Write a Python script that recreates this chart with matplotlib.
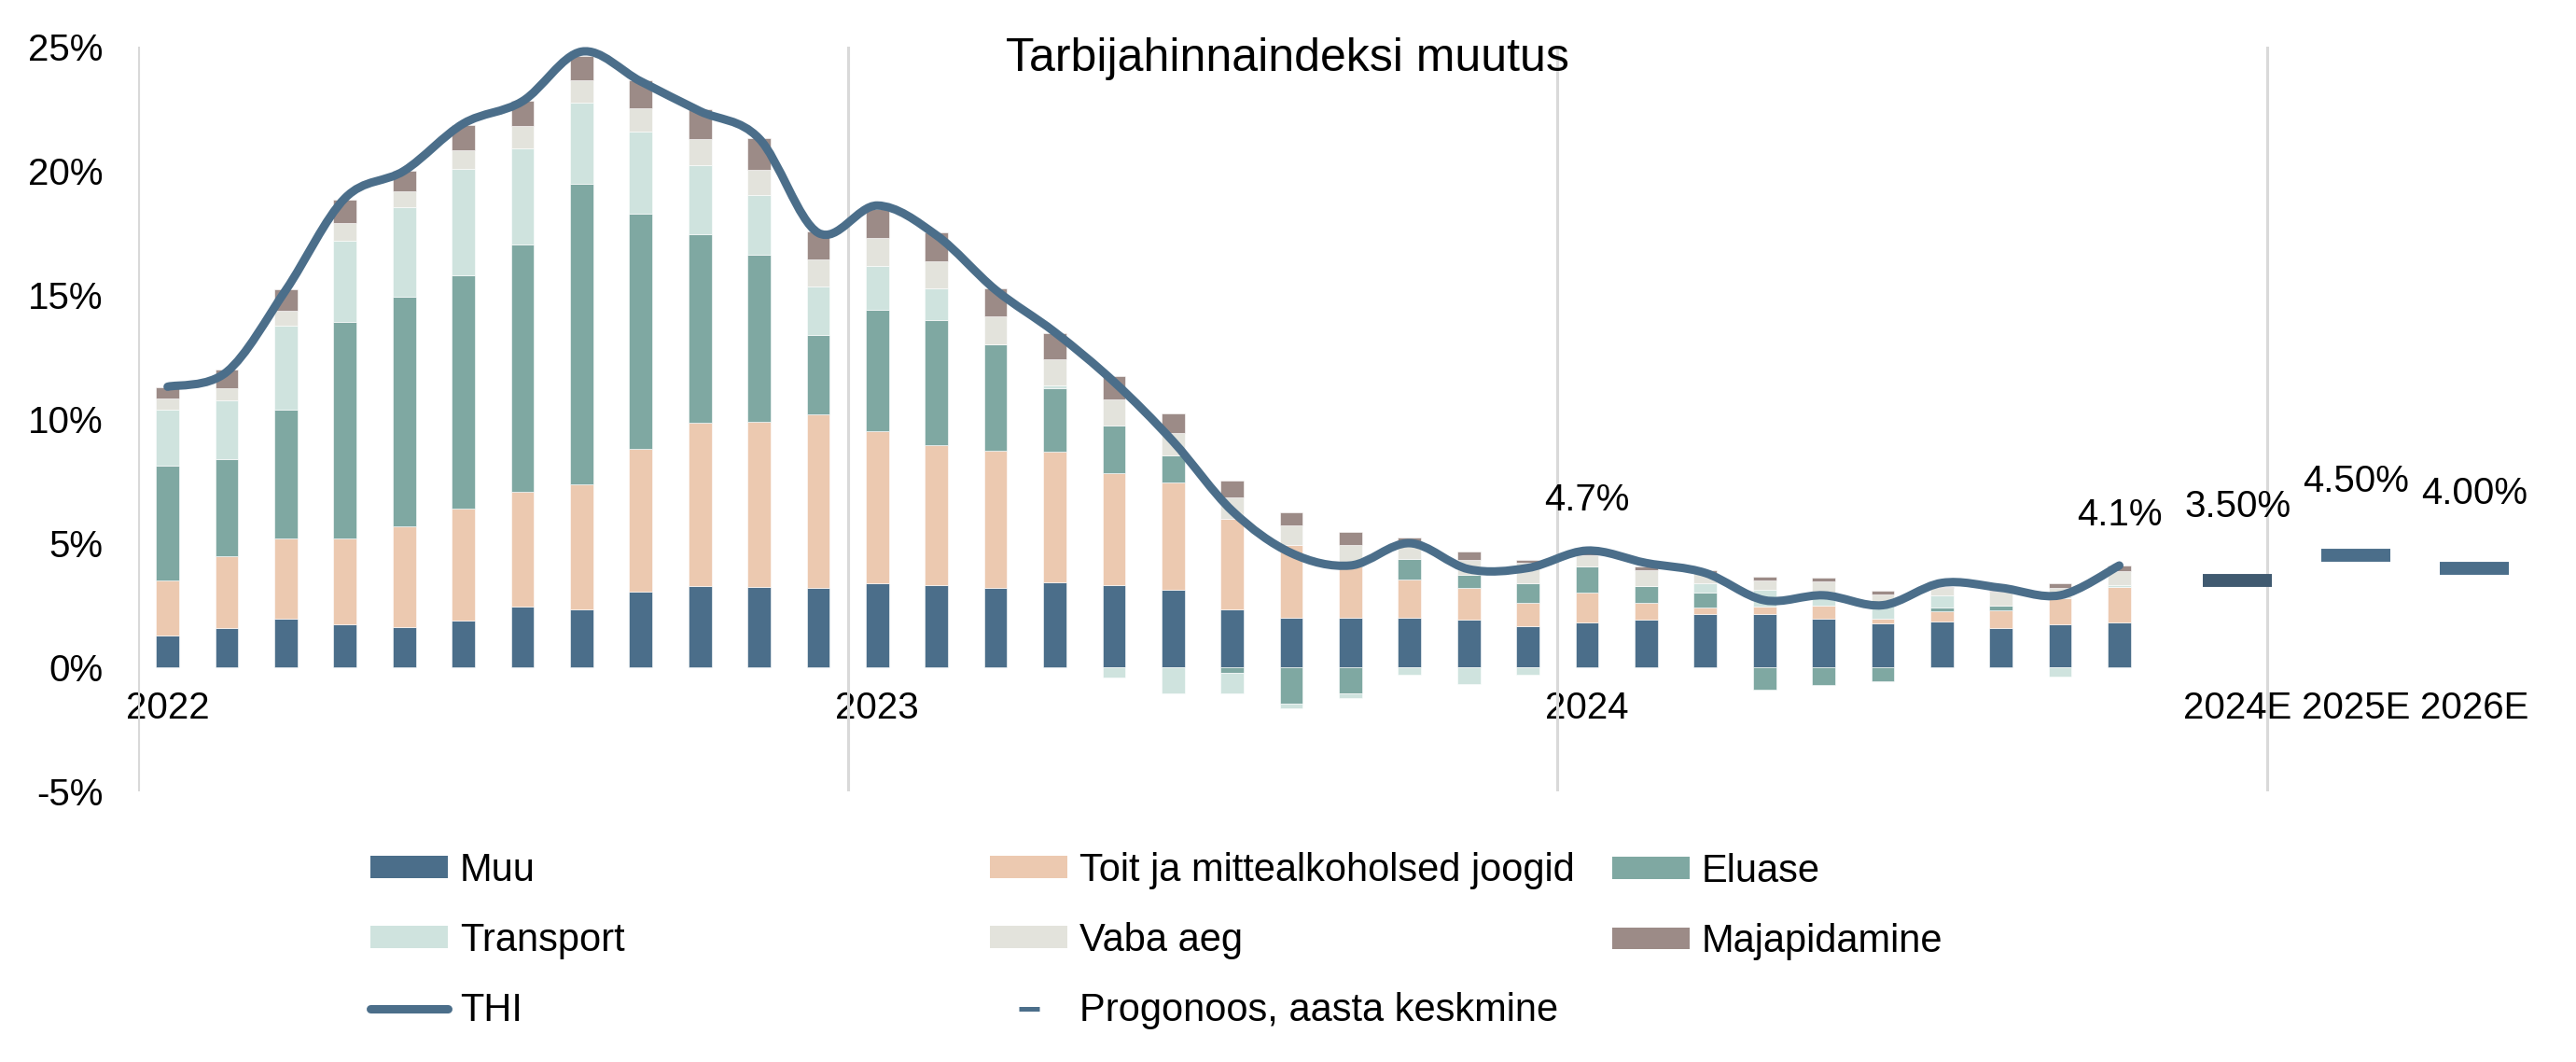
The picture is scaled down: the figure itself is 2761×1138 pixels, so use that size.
import numpy as np
import matplotlib
matplotlib.use("Agg")
import matplotlib.pyplot as plt
from matplotlib.path import Path
from matplotlib.patches import PathPatch, Patch
from matplotlib.lines import Line2D

plt.rcParams["font.family"] = ["Liberation Sans", "DejaVu Sans"]

# monthly contributions (percentage points), Jan 2022 .. Oct 2024
years = ["2022", "2023", "2024"]
muu = [1.29, 1.57, 1.94, 1.72, 1.63, 1.87, 2.43, 2.32, 3.03, 3.26, 3.22, 3.18,
       3.37, 3.30, 3.20, 3.43, 3.30, 3.11, 2.32, 2.00, 2.00, 2.00, 1.90, 1.67,
       1.79, 1.90, 2.13, 2.13, 1.94, 1.75, 1.85, 1.59, 1.72, 1.82]
toit = [2.21, 2.89, 3.24, 3.46, 4.05, 4.52, 4.64, 5.05, 5.77, 6.59, 6.67, 7.01,
        6.14, 5.64, 5.52, 5.24, 4.52, 4.33, 3.66, 2.94, 2.07, 1.53, 1.30, 0.92,
        1.22, 0.69, 0.28, 0.31, 0.53, 0.19, 0.40, 0.69, 1.07, 1.40]
eluase = [4.61, 3.94, 5.21, 8.73, 9.23, 9.41, 9.97, 12.12, 9.48, 7.61, 6.74, 3.18,
          4.90, 5.03, 4.28, 2.58, 1.93, 1.08, -0.23, -1.47, -1.07, 0.84, 0.53, 0.81,
          1.04, 0.69, 0.60, -0.91, -0.71, -0.56, 0.16, 0.19, 0.00, 0.00]
transport = [2.25, 2.37, 3.37, 3.26, 3.62, 4.26, 3.85, 3.25, 3.29, 2.75, 2.39, 1.96,
             1.76, 1.29, 0.00, 0.10, -0.41, -1.07, -0.84, -0.18, -0.16, -0.31, -0.66, -0.29,
             0.00, 0.00, 0.37, 0.69, 0.45, 0.60, 0.47, 0.00, -0.38, 0.08]
vaba_aeg = [0.46, 0.47, 0.61, 0.72, 0.64, 0.75, 0.91, 0.91, 0.95, 1.07, 1.02, 1.10,
            1.12, 1.09, 1.12, 1.06, 1.03, 0.90, 0.85, 0.76, 0.85, 0.64, 0.59, 0.80,
            0.46, 0.64, 0.42, 0.35, 0.54, 0.38, 0.33, 0.56, 0.40, 0.57]
majapidamine = [0.46, 0.75, 0.86, 0.93, 0.84, 1.03, 1.02, 0.97, 1.13, 1.21, 1.28, 1.11,
                1.17, 1.17, 1.14, 1.05, 0.95, 0.81, 0.69, 0.54, 0.53, 0.23, 0.34, 0.12,
                0.13, 0.15, 0.10, 0.15, 0.15, 0.15, 0.04, 0.04, 0.18, 0.23]
thi = [11.3, 11.9, 15.2, 18.9, 20.0, 21.9, 22.8, 24.8, 23.6, 22.4, 21.3, 17.5,
       18.6, 17.4, 15.2, 13.5, 11.5, 9.1, 6.3, 4.6, 4.1, 5.0, 3.95, 4.0,
       4.7, 4.2, 3.8, 2.7, 2.9, 2.5, 3.4, 3.2, 2.9, 4.1]
thi_labelled = [24, 33]   # months whose value is printed

forecast_labels = ["2024E", "2025E", "2026E"]
forecast_values = [3.5, 4.5, 4.0]

series = [
    ("Muu", muu, "#4b6e8a"),
    ("Toit ja mittealkoholsed joogid", toit, "#ecc9b0"),
    ("Eluase", eluase, "#7fa8a2"),
    ("Transport", transport, "#cfe3de"),
    ("Vaba aeg", vaba_aeg, "#e3e3dc"),
    ("Majapidamine", majapidamine, "#9c8b87"),
]
line_color = "#4b6e8a"
forecast_colors = ["#405a70", "#4b6e8a", "#4b6e8a"]


def smooth_path(x, y):
    """Catmull-Rom style bezier through the points (like Excel smoothed line)"""
    pts = np.column_stack([x, y]).astype(float)
    n = len(pts)
    verts = [pts[0]]
    codes = [Path.MOVETO]
    for i in range(n - 1):
        p0 = pts[max(i - 1, 0)]
        p1 = pts[i]
        p2 = pts[i + 1]
        p3 = pts[min(i + 2, n - 1)]
        verts += [p1 + (p2 - p0) / 6, p2 - (p3 - p1) / 6, p2]
        codes += [Path.CURVE4] * 3
    return Path(verts, codes)


n = len(thi)
x = np.arange(n)
fx = n + 1 + 2 * np.arange(len(forecast_values))

fig = plt.figure(figsize=(27.61, 11.38), dpi=100)
ax = fig.add_axes([0.0536, 0.2548, 0.9413, 0.7013])

pos_base = np.zeros(n)
neg_base = np.zeros(n)
for name, vals, col in series:
    v = np.array(vals)
    bottom = np.where(v >= 0, pos_base, neg_base)
    ax.bar(x, v, width=0.39, bottom=bottom, color=col, edgecolor="white",
           linewidth=0.4, zorder=2)
    pos_base += np.clip(v, 0, None)
    neg_base += np.clip(v, None, 0)

ax.add_patch(PathPatch(smooth_path(x, thi), fill=False, edgecolor=line_color,
                       linewidth=6.5, capstyle="round", joinstyle="round", zorder=3))

for i in thi_labelled:
    ax.annotate(f"{thi[i]:.1f}%", (x[i], thi[i]), xytext=(0, 39),
                textcoords="offset points", ha="center", va="center", fontsize=29)

ax.scatter(fx, forecast_values, marker="_", s=53 ** 2, linewidths=10,
           c=forecast_colors, zorder=3)
for xi, v in zip(fx, forecast_values):
    ax.annotate(f"{v:.2f}%", (xi, v), xytext=(0, 57), textcoords="offset points",
                ha="center", va="center", fontsize=29)

# axes
ax.set_xlim(-0.5, fx[-1] + 1.5)
ax.set_ylim(-5, 25)
yt = np.arange(-5, 26, 5)
ax.set_yticks(yt)
ax.set_yticklabels([f"{t}%" for t in yt])
ax.tick_params(axis="y", length=0, pad=27, labelsize=29)

year_starts = [12 * k for k in range(len(years))]
ax.set_xticks(list(year_starts) + list(fx))
ax.set_xticklabels(years + forecast_labels)
ax.tick_params(axis="x", length=0, pad=18, labelsize=29)
ax.set_xticks([s - 0.5 for s in year_starts] + [fx[0] + 0.5], minor=True)
ax.tick_params(axis="x", which="minor", length=0)
ax.grid(which="minor", axis="x", color="#d9d9d9", linewidth=2.2)
ax.set_axisbelow(True)

for s in ["top", "right", "left"]:
    ax.spines[s].set_visible(False)
ax.spines["bottom"].set_position(("data", 0))
ax.spines["bottom"].set_color("none")

fig.text(0.4998, 0.9446, "Tarbijahinnaindeksi muutus", ha="center", va="center",
         fontsize=36)

# legend, three equal-width columns like Excel
h = {name: Patch(facecolor=col) for name, _, col in series}
thi_handle = Line2D([], [], color=line_color, linewidth=6.5, solid_capstyle="round")
fc_handle = Line2D([], [], color=line_color, marker="_", markersize=16,
                   markeredgewidth=3.6, linestyle="none")
columns = [
    ([h["Muu"], h["Transport"], thi_handle], ["Muu", "Transport", "THI"], 397, 1008),
    ([h["Toit ja mittealkoholsed joogid"], h["Vaba aeg"], fc_handle],
     ["Toit ja mittealkoholsed joogid", "Vaba aeg", "Progonoos, aasta keskmine"], 1061, 1008),
    ([h["Eluase"], h["Majapidamine"]], ["Eluase", "Majapidamine"], 1728, 971.5),
]
for handles, labels, px, py in columns:
    fig.legend(handles, labels, loc="center left",
               bbox_to_anchor=(px / 2761, 1 - py / 1138), frameon=False,
               fontsize=30, handlelength=2.0, handleheight=0.5, handletextpad=0.3,
               labelspacing=0.85, borderpad=0, borderaxespad=0)

fig.savefig("out.png", dpi=100)
